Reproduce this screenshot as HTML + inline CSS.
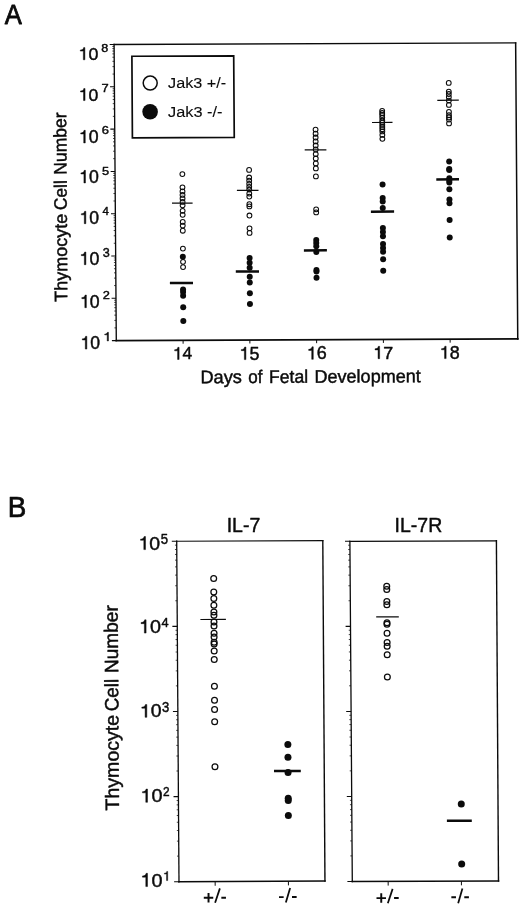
<!DOCTYPE html>
<html><head><meta charset="utf-8"><title>Figure</title>
<style>html,body{margin:0;padding:0;background:#fff}body{width:520px;height:909px;overflow:hidden}svg{display:block}text{font-family:"Liberation Sans",sans-serif;fill:#0b0b0b;stroke:#0b0b0b;stroke-linejoin:round}</style>
</head><body>
<svg width="520" height="909" viewBox="0 0 520 909">
<defs><filter id="soft" x="0" y="0" width="520" height="909" filterUnits="userSpaceOnUse" color-interpolation-filters="sRGB"><feGaussianBlur stdDeviation="0.32"/></filter></defs>
<rect width="520" height="909" fill="#ffffff"/>
<g filter="url(#soft)">
<g id="panelA">
<text transform="translate(4.67 24.02) scale(0.25597 0.28333)" font-size="100" stroke-width="2.78">A</text>
<path d="M114.1 44.5L515.65 42.95" stroke="#0b0b0b" stroke-width="1.3" stroke-linecap="square" fill="none"/>
<path d="M515.65 42.95L517.75 339.0" stroke="#0b0b0b" stroke-width="1.5" stroke-linecap="square" fill="none"/>
<path d="M116.3 340.6L517.75 339.0" stroke="#0b0b0b" stroke-width="1.75" stroke-linecap="square" fill="none"/>
<path d="M114.1 44.5L116.3 340.6" stroke="#0b0b0b" stroke-width="1.35" stroke-linecap="square" fill="none"/>
<path d="M111.90 340.62L116.30 340.60M111.59 298.32L115.99 298.30M111.27 256.02L115.67 256.00M110.96 213.72L115.36 213.70M110.64 171.42L115.04 171.40M110.33 129.12L114.73 129.10M110.01 86.82L114.41 86.80M109.70 44.52L114.10 44.50" stroke="#0b0b0b" stroke-width="1.05" fill="none"/>
<path d="M114.41 327.87L116.21 327.87M114.35 320.42L116.15 320.42M114.31 315.13L116.11 315.13M114.28 311.03L116.08 311.03M114.26 307.68L116.06 307.68M114.23 304.85L116.03 304.85M114.22 302.40L116.02 302.40M114.20 300.24L116.00 300.24M114.09 285.57L115.89 285.57M114.04 278.12L115.84 278.12M114.00 272.83L115.80 272.83M113.97 268.73L115.77 268.73M113.94 265.38L115.74 265.38M113.92 262.55L115.72 262.55M113.90 260.10L115.70 260.10M113.89 257.94L115.69 257.94M113.78 243.27L115.58 243.27M113.72 235.82L115.52 235.82M113.68 230.53L115.48 230.53M113.65 226.43L115.45 226.43M113.63 223.08L115.43 223.08M113.61 220.25L115.41 220.25M113.59 217.80L115.39 217.80M113.57 215.64L115.37 215.64M113.46 200.97L115.26 200.97M113.41 193.52L115.21 193.52M113.37 188.23L115.17 188.23M113.34 184.13L115.14 184.13M113.31 180.78L115.11 180.78M113.29 177.95L115.09 177.95M113.27 175.50L115.07 175.50M113.26 173.34L115.06 173.34M113.15 158.67L114.95 158.67M113.09 151.22L114.89 151.22M113.05 145.93L114.85 145.93M113.02 141.83L114.82 141.83M113.00 138.48L114.80 138.48M112.98 135.65L114.78 135.65M112.96 133.20L114.76 133.20M112.94 131.04L114.74 131.04M112.83 116.37L114.63 116.37M112.78 108.92L114.58 108.92M112.74 103.63L114.54 103.63M112.71 99.53L114.51 99.53M112.68 96.18L114.48 96.18M112.66 93.35L114.46 93.35M112.64 90.90L114.44 90.90M112.63 88.74L114.43 88.74M112.52 74.07L114.32 74.07M112.46 66.62L114.26 66.62M112.43 61.33L114.23 61.33M112.39 57.23L114.19 57.23M112.37 53.88L114.17 53.88M112.35 51.05L114.15 51.05M112.33 48.60L114.13 48.60M112.31 46.44L114.11 46.44" stroke="#0b0b0b" stroke-width="0.75" fill="none"/>
<path d="M183.10 340.33l0.02 3.4M249.86 340.07l0.02 3.4M316.62 339.80l0.02 3.4M383.38 339.54l0.02 3.4M450.14 339.27l0.02 3.4" stroke="#0b0b0b" stroke-width="1.0" fill="none"/>
<g transform="translate(78.51 59.77) scale(0.17809 0.17137)"><path d="M359 0H271V505H102V568C190 568 271 600 288 709H359Z" transform="translate(0.00 0) scale(0.1 -0.1)" fill="#0b0b0b" stroke="#0b0b0b" stroke-width="25.8" stroke-linejoin="round"/><text x="55.62" y="0" font-size="100" stroke-width="2.58">0</text></g>
<g transform="translate(101.17 52.08) scale(0.12632 0.11418)"><text x="0.00" y="0" font-size="100" stroke-width="3.74">8</text></g>
<g transform="translate(78.73 100.57) scale(0.17604 0.16996)"><path d="M359 0H271V505H102V568C190 568 271 600 288 709H359Z" transform="translate(0.00 0) scale(0.1 -0.1)" fill="#0b0b0b" stroke="#0b0b0b" stroke-width="26.0" stroke-linejoin="round"/><text x="55.62" y="0" font-size="100" stroke-width="2.60">0</text></g>
<g transform="translate(101.38 92.47) scale(0.12935 0.11087)"><text x="0.00" y="0" font-size="100" stroke-width="3.75">7</text></g>
<g transform="translate(78.92 142.97) scale(0.17707 0.17772)"><path d="M359 0H271V505H102V568C190 568 271 600 288 709H359Z" transform="translate(0.00 0) scale(0.1 -0.1)" fill="#0b0b0b" stroke="#0b0b0b" stroke-width="25.4" stroke-linejoin="round"/><text x="55.62" y="0" font-size="100" stroke-width="2.54">0</text></g>
<g transform="translate(101.68 134.47) scale(0.12903 0.11643)"><text x="0.00" y="0" font-size="100" stroke-width="3.67">6</text></g>
<g transform="translate(79.12 182.97) scale(0.17707 0.17772)"><path d="M359 0H271V505H102V568C190 568 271 600 288 709H359Z" transform="translate(0.00 0) scale(0.1 -0.1)" fill="#0b0b0b" stroke="#0b0b0b" stroke-width="25.4" stroke-linejoin="round"/><text x="55.62" y="0" font-size="100" stroke-width="2.54">0</text></g>
<g transform="translate(101.92 174.88) scale(0.12737 0.11667)"><text x="0.00" y="0" font-size="100" stroke-width="3.69">5</text></g>
<g transform="translate(79.53 223.67) scale(0.17604 0.17419)"><path d="M359 0H271V505H102V568C190 568 271 600 288 709H359Z" transform="translate(0.00 0) scale(0.1 -0.1)" fill="#0b0b0b" stroke="#0b0b0b" stroke-width="25.7" stroke-linejoin="round"/><text x="55.62" y="0" font-size="100" stroke-width="2.57">0</text></g>
<g transform="translate(102.60 215.47) scale(0.11471 0.11377)"><text x="0.00" y="0" font-size="100" stroke-width="3.94">4</text></g>
<g transform="translate(79.51 264.68) scale(0.17809 0.17842)"><path d="M359 0H271V505H102V568C190 568 271 600 288 709H359Z" transform="translate(0.00 0) scale(0.1 -0.1)" fill="#0b0b0b" stroke="#0b0b0b" stroke-width="25.2" stroke-linejoin="round"/><text x="55.62" y="0" font-size="100" stroke-width="2.52">0</text></g>
<g transform="translate(102.78 256.58) scale(0.12604 0.12214)"><text x="0.00" y="0" font-size="100" stroke-width="3.63">3</text></g>
<g transform="translate(80.02 307.68) scale(0.17707 0.17842)"><path d="M359 0H271V505H102V568C190 568 271 600 288 709H359Z" transform="translate(0.00 0) scale(0.1 -0.1)" fill="#0b0b0b" stroke="#0b0b0b" stroke-width="25.3" stroke-linejoin="round"/><text x="55.62" y="0" font-size="100" stroke-width="2.53">0</text></g>
<g transform="translate(102.73 298.78) scale(0.12826 0.11357)"><text x="0.00" y="0" font-size="100" stroke-width="3.72">2</text></g>
<g transform="translate(80.53 349.08) scale(0.17604 0.17983)"><path d="M359 0H271V505H102V568C190 568 271 600 288 709H359Z" transform="translate(0.00 0) scale(0.1 -0.1)" fill="#0b0b0b" stroke="#0b0b0b" stroke-width="25.3" stroke-linejoin="round"/><text x="55.62" y="0" font-size="100" stroke-width="2.53">0</text></g>
<g transform="translate(103.24 340.98) scale(0.14591 0.12200)"><path d="M359 0H271V505H102V568C190 568 271 600 288 709H359Z" transform="translate(0.00 0) scale(0.1 -0.1)" fill="#0b0b0b" stroke="#0b0b0b" stroke-width="33.6" stroke-linejoin="round"/></g>
<g transform="translate(172.85 359.48) scale(0.17425 0.17137)"><path d="M359 0H271V505H102V568C190 568 271 600 288 709H359Z" transform="translate(0.00 0) scale(0.1 -0.1)" fill="#0b0b0b" stroke="#0b0b0b" stroke-width="26.0" stroke-linejoin="round"/><text x="55.62" y="0" font-size="100" stroke-width="2.60">4</text></g>
<g transform="translate(239.50 359.62) scale(0.17901 0.17772)"><path d="M359 0H271V505H102V568C190 568 271 600 288 709H359Z" transform="translate(0.00 0) scale(0.1 -0.1)" fill="#0b0b0b" stroke="#0b0b0b" stroke-width="25.2" stroke-linejoin="round"/><text x="55.62" y="0" font-size="100" stroke-width="2.52">5</text></g>
<g transform="translate(306.84 359.33) scale(0.17953 0.17630)"><path d="M359 0H271V505H102V568C190 568 271 600 288 709H359Z" transform="translate(0.00 0) scale(0.1 -0.1)" fill="#0b0b0b" stroke="#0b0b0b" stroke-width="25.3" stroke-linejoin="round"/><text x="55.62" y="0" font-size="100" stroke-width="2.53">6</text></g>
<g transform="translate(373.19 358.68) scale(0.17942 0.17419)"><path d="M359 0H271V505H102V568C190 568 271 600 288 709H359Z" transform="translate(0.00 0) scale(0.1 -0.1)" fill="#0b0b0b" stroke="#0b0b0b" stroke-width="25.5" stroke-linejoin="round"/><text x="55.62" y="0" font-size="100" stroke-width="2.55">7</text></g>
<g transform="translate(439.70 358.62) scale(0.17901 0.17489)"><path d="M359 0H271V505H102V568C190 568 271 600 288 709H359Z" transform="translate(0.00 0) scale(0.1 -0.1)" fill="#0b0b0b" stroke="#0b0b0b" stroke-width="25.4" stroke-linejoin="round"/><text x="55.62" y="0" font-size="100" stroke-width="2.54">8</text></g>
<text transform="translate(201.35 383.75) rotate(-0.24) translate(-0.93 -0.53) scale(0.18236 0.18261)" font-size="100" stroke-width="2.47">Days</text>
<text transform="translate(201.35 383.75) rotate(-0.24) translate(46.99 -0.53) scale(0.17019 0.18261)" font-size="100" stroke-width="2.55">of</text>
<text transform="translate(201.35 383.75) rotate(-0.24) translate(67.77 -0.53) scale(0.17588 0.18261)" font-size="100" stroke-width="2.51">Fetal</text>
<text transform="translate(201.35 383.75) rotate(-0.24) translate(113.13 -0.53) scale(0.18057 0.18261)" font-size="100" stroke-width="2.48">Development</text>
<text transform="translate(67.90 301.80) rotate(-90.36) translate(0.17 -0.53) scale(0.17964 0.18000)" font-size="100" stroke-width="2.50">Thymocyte</text>
<text transform="translate(67.90 301.80) rotate(-90.36) translate(91.86 -0.53) scale(0.17231 0.18000)" font-size="100" stroke-width="2.55">Cell</text>
<text transform="translate(67.90 301.80) rotate(-90.36) translate(127.18 -0.53) scale(0.17482 0.18000)" font-size="100" stroke-width="2.54">Number</text>
<polygon points="131.9,56.25 233.7,55.8 234.25,137.3 132.4,137.8" fill="none" stroke="#0b0b0b" stroke-width="1.7"/>
<circle cx="150.2" cy="83.1" r="7.0" fill="none" stroke="#0b0b0b" stroke-width="1.5"/>
<circle cx="150.1" cy="111.8" r="7.8" fill="#0b0b0b"/>
<text transform="translate(168.06 88.45) scale(0.16232 0.15448)" font-size="100" stroke-width="0.63">Jak3 +/-</text>
<text transform="translate(168.05 116.75) scale(0.16346 0.15310)" font-size="100" stroke-width="0.63">Jak3 -/-</text>
<g fill="none" stroke="#0b0b0b" stroke-width="1.05">
<circle cx="182.37" cy="174.1" r="2.4"/>
<circle cx="182.47" cy="187.3" r="2.4"/>
<circle cx="182.50" cy="191.4" r="2.4"/>
<circle cx="182.53" cy="194.9" r="2.4"/>
<circle cx="182.55" cy="198.4" r="2.4"/>
<circle cx="182.58" cy="201.9" r="2.4"/>
<circle cx="182.60" cy="205.3" r="2.4"/>
<circle cx="182.64" cy="210.8" r="2.4"/>
<circle cx="182.67" cy="214.8" r="2.4"/>
<circle cx="182.73" cy="221.9" r="2.4"/>
<circle cx="182.75" cy="225.6" r="2.4"/>
<circle cx="182.79" cy="230.7" r="2.4"/>
<circle cx="182.92" cy="248.6" r="2.4"/>
<circle cx="183.02" cy="261.8" r="2.4"/>
<circle cx="183.06" cy="267.1" r="2.4"/>
<circle cx="249.10" cy="169.9" r="2.4"/>
<circle cx="249.16" cy="177.5" r="2.4"/>
<circle cx="249.18" cy="180.6" r="2.4"/>
<circle cx="249.20" cy="183.8" r="2.4"/>
<circle cx="249.23" cy="186.8" r="2.4"/>
<circle cx="249.25" cy="189.6" r="2.4"/>
<circle cx="249.28" cy="193.6" r="2.4"/>
<circle cx="249.30" cy="196.6" r="2.4"/>
<circle cx="249.36" cy="204.2" r="2.4"/>
<circle cx="249.37" cy="206.4" r="2.4"/>
<circle cx="249.44" cy="215.5" r="2.4"/>
<circle cx="249.53" cy="228.3" r="2.4"/>
<circle cx="249.57" cy="232.9" r="2.4"/>
<circle cx="315.56" cy="129.6" r="2.4"/>
<circle cx="315.59" cy="133.7" r="2.4"/>
<circle cx="315.62" cy="137.5" r="2.4"/>
<circle cx="315.65" cy="141.4" r="2.4"/>
<circle cx="315.68" cy="145.5" r="2.4"/>
<circle cx="315.71" cy="149.5" r="2.4"/>
<circle cx="315.74" cy="154.1" r="2.4"/>
<circle cx="315.78" cy="158.5" r="2.4"/>
<circle cx="315.81" cy="163.4" r="2.4"/>
<circle cx="315.85" cy="168.4" r="2.4"/>
<circle cx="315.91" cy="176.4" r="2.4"/>
<circle cx="316.15" cy="209.3" r="2.4"/>
<circle cx="316.18" cy="212.4" r="2.4"/>
<circle cx="382.18" cy="110.8" r="2.4"/>
<circle cx="382.20" cy="113.0" r="2.4"/>
<circle cx="382.21" cy="114.9" r="2.4"/>
<circle cx="382.23" cy="117.6" r="2.4"/>
<circle cx="382.26" cy="120.5" r="2.4"/>
<circle cx="382.27" cy="122.6" r="2.4"/>
<circle cx="382.29" cy="124.8" r="2.4"/>
<circle cx="382.30" cy="127.0" r="2.4"/>
<circle cx="382.32" cy="129.2" r="2.4"/>
<circle cx="382.34" cy="131.4" r="2.4"/>
<circle cx="382.36" cy="134.9" r="2.4"/>
<circle cx="382.39" cy="138.8" r="2.4"/>
<circle cx="448.74" cy="82.9" r="2.4"/>
<circle cx="448.80" cy="91.6" r="2.4"/>
<circle cx="448.82" cy="94.0" r="2.4"/>
<circle cx="448.84" cy="97.1" r="2.4"/>
<circle cx="448.87" cy="100.6" r="2.4"/>
<circle cx="448.90" cy="104.9" r="2.4"/>
<circle cx="448.95" cy="111.9" r="2.4"/>
<circle cx="448.98" cy="115.2" r="2.4"/>
<circle cx="448.99" cy="117.4" r="2.4"/>
<circle cx="449.01" cy="119.6" r="2.4"/>
<circle cx="449.04" cy="123.4" r="2.4"/>
</g>
<g fill="#0b0b0b">
<circle cx="182.83" cy="256.7" r="3.0"/>
<circle cx="183.08" cy="289.5" r="3.0"/>
<circle cx="183.09" cy="292" r="3.0"/>
<circle cx="183.12" cy="295.7" r="3.0"/>
<circle cx="183.21" cy="307.2" r="3.0"/>
<circle cx="183.31" cy="320.9" r="3.0"/>
<circle cx="249.60" cy="258" r="3.0"/>
<circle cx="249.64" cy="262.8" r="3.0"/>
<circle cx="249.67" cy="267.7" r="3.0"/>
<circle cx="249.74" cy="276.7" r="3.0"/>
<circle cx="249.78" cy="282.5" r="3.0"/>
<circle cx="249.86" cy="293.3" r="3.0"/>
<circle cx="249.94" cy="304" r="3.0"/>
<circle cx="316.23" cy="239.9" r="3.0"/>
<circle cx="316.25" cy="243" r="3.0"/>
<circle cx="316.28" cy="246.2" r="3.0"/>
<circle cx="316.32" cy="251.9" r="3.0"/>
<circle cx="316.45" cy="270" r="3.0"/>
<circle cx="316.46" cy="271.4" r="3.0"/>
<circle cx="316.51" cy="277.8" r="3.0"/>
<circle cx="382.58" cy="184.6" r="3.0"/>
<circle cx="382.68" cy="197.9" r="3.0"/>
<circle cx="382.71" cy="201.5" r="3.0"/>
<circle cx="382.75" cy="207.9" r="3.0"/>
<circle cx="382.90" cy="227.9" r="3.0"/>
<circle cx="382.93" cy="232" r="3.0"/>
<circle cx="382.96" cy="236.2" r="3.0"/>
<circle cx="383.02" cy="243.9" r="3.0"/>
<circle cx="383.05" cy="247.9" r="3.0"/>
<circle cx="383.08" cy="251.8" r="3.0"/>
<circle cx="383.13" cy="259.2" r="3.0"/>
<circle cx="383.22" cy="270.7" r="3.0"/>
<circle cx="449.17" cy="161.4" r="3.0"/>
<circle cx="449.22" cy="168.9" r="3.0"/>
<circle cx="449.23" cy="170.0" r="3.0"/>
<circle cx="449.29" cy="178.2" r="3.0"/>
<circle cx="449.31" cy="180.5" r="3.0"/>
<circle cx="449.32" cy="182.5" r="3.0"/>
<circle cx="449.37" cy="189.3" r="3.0"/>
<circle cx="449.45" cy="199.4" r="3.0"/>
<circle cx="449.48" cy="203.3" r="3.0"/>
<circle cx="449.60" cy="219.9" r="3.0"/>
<circle cx="449.73" cy="237.4" r="3.0"/>
</g>
<path d="M172 203.2L192.6 203.10999999999999M236.9 190.4L258.5 190.31M304.7 149.9L326.4 149.81M372 122.5L392.5 122.41M437.3 100.3L458.8 100.21" stroke="#0b0b0b" stroke-width="1.2" fill="none"/>
<path d="M169.9 283.1L193 283.01000000000005M235.8 271.5L259 271.41M303.9 250.4L326.9 250.31M370.9 211.65L394.1 211.56M436.3 179.4L459 179.31" stroke="#0b0b0b" stroke-width="2.5" fill="none"/>
</g>
<g id="panelB">
<text transform="translate(7.66 517.20) scale(0.27794 0.28623)" font-size="100" stroke-width="2.48">B</text>
<path d="M176.7 541.25L322.8 540.6" stroke="#0b0b0b" stroke-width="1.2" stroke-linecap="square" fill="none"/>
<path d="M322.8 540.6L324.95 881.0" stroke="#0b0b0b" stroke-width="1.4" stroke-linecap="square" fill="none"/>
<path d="M179.0 881.75L324.95 881.0" stroke="#0b0b0b" stroke-width="1.6" stroke-linecap="square" fill="none"/>
<path d="M176.7 541.25L179.0 881.75" stroke="#0b0b0b" stroke-width="1.3" stroke-linecap="square" fill="none"/>
<path d="M174.10 881.77L179.00 881.75M173.53 796.64L178.43 796.62M172.95 711.52L177.85 711.50M172.37 626.39L177.27 626.38M171.80 541.27L176.70 541.25" stroke="#0b0b0b" stroke-width="1.05" fill="none"/>
<path d="M177.03 856.12L178.83 856.12M176.93 841.14L178.73 841.14M176.85 830.50L178.65 830.50M176.80 822.25L178.60 822.25M176.75 815.51L178.55 815.51M176.71 809.81L178.51 809.81M176.68 804.87L178.48 804.87M176.65 800.52L178.45 800.52M176.45 771.00L178.25 771.00M176.35 756.01L178.15 756.01M176.28 745.37L178.08 745.37M176.22 737.13L178.02 737.13M176.18 730.38L177.98 730.38M176.14 724.69L177.94 724.69M176.11 719.75L177.91 719.75M176.08 715.40L177.88 715.40M175.88 685.87L177.68 685.87M175.78 670.89L177.58 670.89M175.70 660.25L177.50 660.25M175.65 652.00L177.45 652.00M175.60 645.26L177.40 645.26M175.56 639.56L177.36 639.56M175.53 634.62L177.33 634.62M175.50 630.27L177.30 630.27M175.30 600.75L177.10 600.75M175.20 585.76L177.00 585.76M175.13 575.12L176.93 575.12M175.07 566.88L176.87 566.88M175.03 560.13L176.83 560.13M174.99 554.44L176.79 554.44M174.96 549.50L176.76 549.50M174.93 545.15L176.73 545.15" stroke="#0b0b0b" stroke-width="0.75" fill="none"/>
<path d="M349.9 541.3L496.4 540.8" stroke="#0b0b0b" stroke-width="1.2" stroke-linecap="square" fill="none"/>
<path d="M496.4 540.8L498.5 881.0" stroke="#0b0b0b" stroke-width="1.4" stroke-linecap="square" fill="none"/>
<path d="M352.3 881.5L498.5 881.0" stroke="#0b0b0b" stroke-width="1.6" stroke-linecap="square" fill="none"/>
<path d="M349.9 541.3L352.3 881.5" stroke="#0b0b0b" stroke-width="1.3" stroke-linecap="square" fill="none"/>
<path d="M347.40 881.52L352.30 881.50M346.80 796.47L351.70 796.45M346.20 711.42L351.10 711.40M345.60 626.37L350.50 626.35M345.00 541.32L349.90 541.30" stroke="#0b0b0b" stroke-width="1.05" fill="none"/>
<path d="M350.32 855.90L352.12 855.90M350.21 840.92L352.01 840.92M350.14 830.29L351.94 830.29M350.08 822.05L351.88 822.05M350.03 815.32L351.83 815.32M349.99 809.62L351.79 809.62M349.96 804.69L351.76 804.69M349.93 800.34L351.73 800.34M349.72 770.85L351.52 770.85M349.61 755.87L351.41 755.87M349.54 745.24L351.34 745.24M349.48 737.00L351.28 737.00M349.43 730.27L351.23 730.27M349.39 724.57L351.19 724.57M349.36 719.64L351.16 719.64M349.33 715.29L351.13 715.29M349.12 685.80L350.92 685.80M349.01 670.82L350.81 670.82M348.94 660.19L350.74 660.19M348.88 651.95L350.68 651.95M348.83 645.22L350.63 645.22M348.79 639.52L350.59 639.52M348.76 634.59L350.56 634.59M348.73 630.24L350.53 630.24M348.52 600.75L350.32 600.75M348.41 585.77L350.21 585.77M348.34 575.14L350.14 575.14M348.28 566.90L350.08 566.90M348.23 560.17L350.03 560.17M348.19 554.47L349.99 554.47M348.16 549.54L349.96 549.54M348.13 545.19L349.93 545.19" stroke="#0b0b0b" stroke-width="0.75" fill="none"/>
<path d="M215.15 881.56l0.03 4.2M288.40 881.19l0.03 4.2" stroke="#0b0b0b" stroke-width="1.0" fill="none"/>
<path d="M388.15 881.38l0.03 4.2M461.40 881.13l0.03 4.2" stroke="#0b0b0b" stroke-width="1.0" fill="none"/>
<g transform="translate(138.54 549.62) scale(0.19452 0.18477)"><path d="M359 0H271V505H102V568C190 568 271 600 288 709H359Z" transform="translate(0.00 0) scale(0.1 -0.1)" fill="#0b0b0b" stroke="#0b0b0b" stroke-width="23.7" stroke-linejoin="round"/><text x="55.62" y="0" font-size="100" stroke-width="2.37">0</text></g>
<g transform="translate(160.80 544.48) scale(0.13158 0.14638)"><text x="0.00" y="0" font-size="100" stroke-width="3.24">5</text></g>
<g transform="translate(139.01 633.08) scale(0.19760 0.18688)"><path d="M359 0H271V505H102V568C190 568 271 600 288 709H359Z" transform="translate(0.00 0) scale(0.1 -0.1)" fill="#0b0b0b" stroke="#0b0b0b" stroke-width="23.4" stroke-linejoin="round"/><text x="55.62" y="0" font-size="100" stroke-width="2.34">0</text></g>
<g transform="translate(161.42 627.27) scale(0.12745 0.13406)"><text x="0.00" y="0" font-size="100" stroke-width="3.44">4</text></g>
<g transform="translate(139.84 717.33) scale(0.19452 0.18054)"><path d="M359 0H271V505H102V568C190 568 271 600 288 709H359Z" transform="translate(0.00 0) scale(0.1 -0.1)" fill="#0b0b0b" stroke="#0b0b0b" stroke-width="24.0" stroke-linejoin="round"/><text x="55.62" y="0" font-size="100" stroke-width="2.40">0</text></g>
<g transform="translate(161.97 712.08) scale(0.13021 0.13857)"><text x="0.00" y="0" font-size="100" stroke-width="3.35">3</text></g>
<g transform="translate(140.40 802.33) scale(0.19862 0.18759)"><path d="M359 0H271V505H102V568C190 568 271 600 288 709H359Z" transform="translate(0.00 0) scale(0.1 -0.1)" fill="#0b0b0b" stroke="#0b0b0b" stroke-width="23.3" stroke-linejoin="round"/><text x="55.62" y="0" font-size="100" stroke-width="2.33">0</text></g>
<g transform="translate(163.03 796.38) scale(0.11848 0.13357)"><text x="0.00" y="0" font-size="100" stroke-width="3.57">2</text></g>
<g transform="translate(140.40 886.58) scale(0.19862 0.18688)"><path d="M359 0H271V505H102V568C190 568 271 600 288 709H359Z" transform="translate(0.00 0) scale(0.1 -0.1)" fill="#0b0b0b" stroke="#0b0b0b" stroke-width="23.3" stroke-linejoin="round"/><text x="55.62" y="0" font-size="100" stroke-width="2.33">0</text></g>
<g transform="translate(163.07 880.58) scale(0.12840 0.12906)"><path d="M359 0H271V505H102V568C190 568 271 600 288 709H359Z" transform="translate(0.00 0) scale(0.1 -0.1)" fill="#0b0b0b" stroke="#0b0b0b" stroke-width="35.0" stroke-linejoin="round"/></g>
<path d="M203.80 897.70H213.25M208.53 892.97V902.43M221.34 897.65H225.95" stroke="#0b0b0b" stroke-width="1.95" fill="none"/>
<path d="M215.10 902.80L219.89 888.40" stroke="#0b0b0b" stroke-width="1.75" fill="none"/>
<path d="M279.00 897.10H283.65M292.00 897.05H296.65" stroke="#0b0b0b" stroke-width="1.95" fill="none"/>
<path d="M285.85 902.60L290.15 888.00" stroke="#0b0b0b" stroke-width="1.75" fill="none"/>
<path d="M376.50 898.10H385.98M381.24 893.36V902.84M394.08 898.05H398.70" stroke="#0b0b0b" stroke-width="1.95" fill="none"/>
<path d="M387.83 903.20L392.63 888.90" stroke="#0b0b0b" stroke-width="1.75" fill="none"/>
<path d="M451.35 897.30H455.98M464.27 897.25H468.90" stroke="#0b0b0b" stroke-width="1.95" fill="none"/>
<path d="M458.18 903.20L462.42 888.40" stroke="#0b0b0b" stroke-width="1.75" fill="none"/>
<text transform="translate(226.67 531.77) scale(0.19502 0.19348)" font-size="100" stroke-width="2.32">IL-7</text>
<text transform="translate(394.62 531.98) scale(0.19497 0.19710)" font-size="100" stroke-width="2.30">IL-7R</text>
<text transform="translate(119.60 810.60) rotate(-90.39) translate(0.13 -0.53) scale(0.19559 0.19379)" font-size="100" stroke-width="2.31">Thymocyte</text>
<text transform="translate(119.60 810.60) rotate(-90.39) translate(99.28 -0.53) scale(0.18907 0.19379)" font-size="100" stroke-width="2.35">Cell</text>
<text transform="translate(119.60 810.60) rotate(-90.39) translate(137.55 -0.53) scale(0.19070 0.19379)" font-size="100" stroke-width="2.34">Number</text>
<g fill="none" stroke="#0b0b0b" stroke-width="1.25">
<circle cx="213.69" cy="578.6" r="2.9"/>
<circle cx="213.78" cy="592.0" r="2.9"/>
<circle cx="213.83" cy="598.6" r="2.9"/>
<circle cx="213.87" cy="605.25" r="2.9"/>
<circle cx="213.92" cy="612.0" r="2.9"/>
<circle cx="213.94" cy="615.3000000000001" r="2.9"/>
<circle cx="213.99" cy="622.1" r="2.9"/>
<circle cx="214.02" cy="626.1" r="2.9"/>
<circle cx="214.06" cy="633.2" r="2.9"/>
<circle cx="214.09" cy="637.0" r="2.9"/>
<circle cx="214.13" cy="642.3000000000001" r="2.9"/>
<circle cx="214.14" cy="644.0" r="2.9"/>
<circle cx="214.18" cy="650.9000000000001" r="2.9"/>
<circle cx="214.24" cy="659.4000000000001" r="2.9"/>
<circle cx="214.42" cy="686.2" r="2.9"/>
<circle cx="214.52" cy="700.2" r="2.9"/>
<circle cx="214.58" cy="709.4000000000001" r="2.9"/>
<circle cx="214.67" cy="721.7" r="2.9"/>
<circle cx="214.97" cy="766.8000000000001" r="2.9"/>
<circle cx="386.74" cy="586.2" r="2.9"/>
<circle cx="386.77" cy="589.4000000000001" r="2.9"/>
<circle cx="386.85" cy="601.5" r="2.9"/>
<circle cx="386.87" cy="604.8000000000001" r="2.9"/>
<circle cx="386.99" cy="622.7" r="2.9"/>
<circle cx="387.00" cy="624.2" r="2.9"/>
<circle cx="387.06" cy="633.2" r="2.9"/>
<circle cx="387.13" cy="642.5" r="2.9"/>
<circle cx="387.15" cy="646.2" r="2.9"/>
<circle cx="387.21" cy="654.8000000000001" r="2.9"/>
<circle cx="387.36" cy="676.9000000000001" r="2.9"/>
</g>
<g fill="#0b0b0b">
<circle cx="287.87" cy="744.4" r="3.5"/>
<circle cx="287.96" cy="757.3" r="3.5"/>
<circle cx="288.06" cy="772.6" r="3.5"/>
<circle cx="288.24" cy="798.3" r="3.5"/>
<circle cx="288.25" cy="800.6" r="3.5"/>
<circle cx="288.35" cy="815.5" r="3.5"/>
<circle cx="461.28" cy="804" r="3.5"/>
<circle cx="461.68" cy="863.9" r="3.5"/>
</g>
<path d="M200.4 619.5L225.9 619.4M376.2 616.95L398.8 616.85" stroke="#0b0b0b" stroke-width="1.2" fill="none"/>
<path d="M274 771.05L300.8 770.95M446.9 820.85L471.8 820.75" stroke="#0b0b0b" stroke-width="2.5" fill="none"/>
</g>
</g>
</svg></body></html>
